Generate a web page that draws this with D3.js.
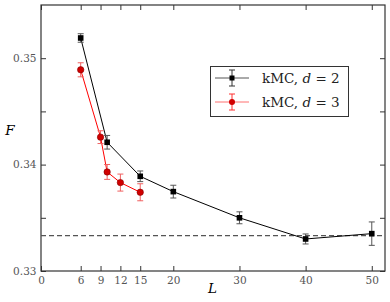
<!DOCTYPE html>
<html>
<head>
<meta charset="utf-8">
<script src="https://cdn.jsdelivr.net/npm/d3@7"></script>
<style>
	body { margin: 0; background: #fff; }
</style>
</head>
<body>
<script>
const width = 390;
const height = 302;
const serif = "'DejaVu Serif', 'Liberation Serif', serif";

// d = 2 (black squares)
const d2L = [6, 10, 15, 20, 30, 40, 50];
const d2F = [0.3519, 0.3421, 0.3389, 0.33746, 0.3350, 0.33301, 0.33351];
const d2Err = [0.0004, 0.00064, 0.0005, 0.0006, 0.00056, 0.00047, 0.0011];

// d = 3 (red circles)
const d3L = [6, 9, 10, 12, 15];
const d3F = [0.34891, 0.34258, 0.33931, 0.33831, 0.33740];
const d3Err = [0.00066, 0.0006, 0.0007, 0.0008, 0.0008];

const xTicks = [0, 6, 9, 12, 15, 20, 30, 40, 50];
const yTicks = [0.33, 0.335, 0.34, 0.345, 0.35];
const yLabels = ["0.33", "", "0.34", "", "0.35"];
const refLine = 1 / 3;

const margin = {top: 5, right: 5, bottom: 31, left: 41};

const svg = d3.select("body")
	.append("svg")
	.attr("width", width)
	.attr("height", height);

const x = d3.scaleLinear()
	.domain([0, 52])
	.range([margin.left, width - margin.right]);

const y = d3.scaleLinear()
	.domain([0.33, 0.355])
	.range([height - margin.bottom, margin.top]);

const axisColor = "#333";

//axes with inward ticks, mirrored on top and right
function styleAxis(g) {
	g.attr("font-family", serif).attr("font-size", 10.5);
	g.select(".domain").remove();
	g.selectAll("line").attr("stroke", axisColor);
	g.selectAll("text").attr("fill", "#555");
}

svg.append("g")
	.attr("transform", `translate(0,${height - margin.bottom})`)
	.call(d3.axisBottom(x).tickValues(xTicks).tickSizeInner(-5).tickPadding(6).tickFormat(d3.format("d")))
	.call(styleAxis);

svg.append("g")
	.attr("transform", `translate(0,${margin.top})`)
	.call(d3.axisTop(x).tickValues(xTicks).tickSizeInner(-5).tickFormat(""))
	.call(styleAxis);

svg.append("g")
	.attr("transform", `translate(${margin.left},0)`)
	.call(d3.axisLeft(y).tickValues(yTicks).tickSizeInner(-5).tickPadding(4.5).tickFormat((d, i) => yLabels[i]))
	.call(styleAxis);

svg.append("g")
	.attr("transform", `translate(${width - margin.right},0)`)
	.call(d3.axisRight(y).tickValues(yTicks).tickSizeInner(-5).tickFormat(""))
	.call(styleAxis);

svg.append("rect")
	.attr("x", margin.left)
	.attr("y", margin.top)
	.attr("width", width - margin.left - margin.right)
	.attr("height", height - margin.top - margin.bottom)
	.attr("fill", "none")
	.attr("stroke", axisColor)
	.attr("stroke-width", 1.2);

//dashed reference line
svg.append("line")
	.attr("x1", margin.left)
	.attr("x2", width - margin.right)
	.attr("y1", y(refLine))
	.attr("y2", y(refLine))
	.attr("stroke", "#555")
	.attr("stroke-width", 1.2)
	.attr("stroke-dasharray", "5,3");

function drawSeries(L, F, E, color, errColor, marker) {
	const pts = L.map((l, i) => ({l: l, f: F[i], e: E[i]}));
	const g = svg.append("g");

	g.append("path")
		.datum(pts)
		.attr("fill", "none")
		.attr("stroke", color)
		.attr("stroke-width", 1)
		.attr("d", d3.line().x(d => x(d.l)).y(d => y(d.f)));

	const eb = g.selectAll(".eb").data(pts).enter().append("g").attr("stroke", errColor).attr("stroke-width", 1);
	eb.append("line")
		.attr("x1", d => x(d.l)).attr("x2", d => x(d.l))
		.attr("y1", d => y(d.f - d.e)).attr("y2", d => y(d.f + d.e));
	eb.append("line")
		.attr("x1", d => x(d.l) - 3).attr("x2", d => x(d.l) + 3)
		.attr("y1", d => y(d.f - d.e)).attr("y2", d => y(d.f - d.e));
	eb.append("line")
		.attr("x1", d => x(d.l) - 3).attr("x2", d => x(d.l) + 3)
		.attr("y1", d => y(d.f + d.e)).attr("y2", d => y(d.f + d.e));

	if (marker === "square") {
		g.selectAll(".m").data(pts).enter().append("rect")
			.attr("x", d => x(d.l) - 2.8)
			.attr("y", d => y(d.f) - 2.8)
			.attr("width", 5.6)
			.attr("height", 5.6)
			.attr("fill", color);
	} else {
		g.selectAll(".m").data(pts).enter().append("circle")
			.attr("cx", d => x(d.l))
			.attr("cy", d => y(d.f))
			.attr("r", 3.2)
			.attr("fill", "#d00000")
			.attr("stroke", "#800")
			.attr("stroke-width", 0.6);
	}
}

drawSeries(d2L, d2F, d2Err, "#000", "#555", "square");
drawSeries(d3L, d3F, d3Err, "#ff0000", "#f06060", "circle");

//axis labels
svg.append("text")
	.attr("x", 10)
	.attr("y", 134.5)
	.attr("text-anchor", "middle")
	.attr("font-family", serif)
	.attr("font-style", "italic")
	.attr("font-size", 13.5)
	.text("F");

svg.append("text")
	.attr("x", 212.5)
	.attr("y", 292.5)
	.attr("text-anchor", "middle")
	.attr("font-family", serif)
	.attr("font-style", "italic")
	.attr("font-size", 13.5)
	.text("L");

//legend
const legend = svg.append("g");
legend.append("rect")
	.attr("x", 210.5)
	.attr("y", 66.5)
	.attr("width", 138)
	.attr("height", 50)
	.attr("fill", "#fff")
	.attr("stroke", "#333")
	.attr("stroke-width", 1);

const legendItems = [
	{label: "2", color: "#555", err: "#333", marker: "square", fill: "#000"},
	{label: "3", color: "#ff7070", err: "#ff3030", marker: "circle", fill: "#d00000"}
];

legendItems.forEach(function(item, i) {
	const cy = 78 + i * 24;
	const row = legend.append("g");
	row.append("line").attr("x1", 215).attr("x2", 249).attr("y1", cy).attr("y2", cy)
		.attr("stroke", item.color).attr("stroke-width", 1);
	row.append("line").attr("x1", 232).attr("x2", 232).attr("y1", cy - 8).attr("y2", cy + 8)
		.attr("stroke", item.err).attr("stroke-width", 1);
	row.append("line").attr("x1", 229).attr("x2", 235).attr("y1", cy - 8).attr("y2", cy - 8)
		.attr("stroke", item.err).attr("stroke-width", 1);
	row.append("line").attr("x1", 229).attr("x2", 235).attr("y1", cy + 8).attr("y2", cy + 8)
		.attr("stroke", item.err).attr("stroke-width", 1);
	if (item.marker === "square") {
		row.append("rect").attr("x", 229.5).attr("y", cy - 2.5).attr("width", 5).attr("height", 5).attr("fill", item.fill);
	} else {
		row.append("circle").attr("cx", 232).attr("cy", cy).attr("r", 3).attr("fill", item.fill);
	}
	const t = row.append("text")
		.attr("x", 262)
		.attr("y", cy + 5)
		.attr("font-family", serif)
		.attr("font-size", 13.5)
		.attr("fill", "#222");
	t.append("tspan").text("kMC, ");
	t.append("tspan").attr("font-style", "italic").text("d");
	t.append("tspan").text(" = " + item.label);
});
</script>
</body>
</html>
